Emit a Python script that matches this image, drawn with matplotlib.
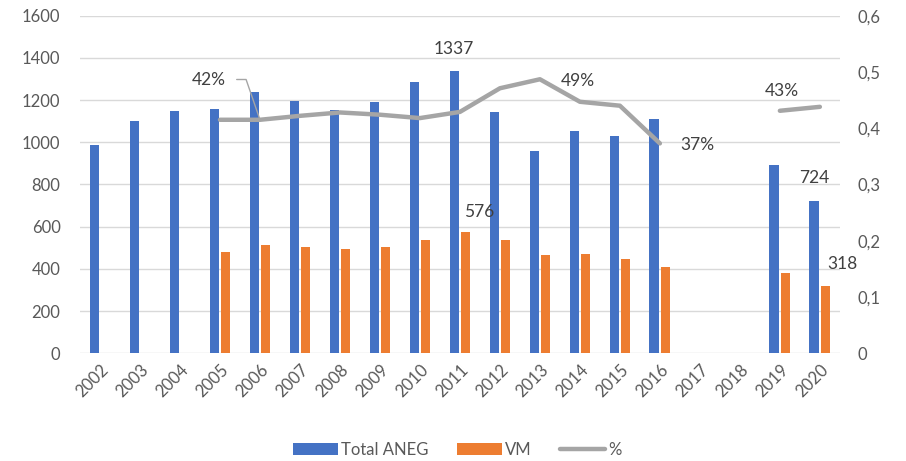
#!/usr/bin/env python
# -*- coding: utf-8 -*-

import matplotlib
matplotlib.use("Agg")
import matplotlib.pyplot as plt
import numpy as np

years = ["2002", "2003", "2004", "2005", "2006", "2007", "2008", "2009", "2010",
         "2011", "2012", "2013", "2014", "2015", "2016", "2017", "2018", "2019", "2020"]
total_aneg = [985, 1100, 1150, 1160, 1238, 1197, 1152, 1193, 1288,
              1337, 1143, 960, 1053, 1029, 1108, None, None, 893, 724]
vm = [None, None, None, 480, 512, 502, 493, 504, 537,
      576, 537, 467, 469, 449, 411, None, None, 382, 318]
pct = [None, None, None, 0.415, 0.415, 0.422, 0.428, 0.424, 0.418,
       0.429, 0.471, 0.487, 0.447, 0.440, 0.373, None, None, 0.431, 0.438]

BLUE = "#4472C4"
ORANGE = "#ED7D31"
GREY = "#A5A5A5"
TXT = "#595959"
LBL = "#404040"

plt.rcParams["font.family"] = ["Lato", "DejaVu Sans"]


def to_arr(values):
    return np.array([np.nan if v is None else v for v in values], dtype=float)


def comma_fmt(v, _pos):
    if abs(v) < 1e-9:
        return "0"
    return f"{v:.1f}".replace(".", ",")


x = np.arange(len(years))
tot = to_arr(total_aneg)
vmv = to_arr(vm)
pcv = to_arr(pct)

fig = plt.figure(figsize=(9.06, 4.61), dpi=100)
ax = fig.add_axes([0.0883, 0.2336, 0.8387, 0.7324])
ax2 = ax.twinx()

w = 0.23
off = 0.145
m = ~np.isnan(tot)
ax.bar(x[m] - off, tot[m], width=w, color=BLUE, zorder=2, label="Total ANEG")
m = ~np.isnan(vmv)
ax.bar(x[m] + off, vmv[m], width=w, color=ORANGE, zorder=2, label="VM")
ax2.plot(x, pcv, color=GREY, lw=3.2, solid_capstyle="round", label="%")

ax.set_xlim(-0.5, len(years) - 0.5)
ax.set_ylim(0, 1600)
ax.set_yticks(np.arange(0, 1601, 200))
ax2.set_ylim(0, 0.6)
ax2.set_yticks(np.arange(0, 0.61, 0.1))
ax2.yaxis.set_major_formatter(plt.FuncFormatter(comma_fmt))

ax.set_xticks(x)
ax.set_xticklabels(years, rotation=45, ha="right", va="top", rotation_mode="anchor")
ax.grid(axis="y", color="#D9D9D9", lw=1, zorder=0)
ax.set_axisbelow(True)
for a in (ax, ax2):
    for s in a.spines.values():
        s.set_visible(False)
    a.tick_params(length=0, labelsize=12, labelcolor=TXT)
ax.tick_params(axis="y", pad=14)
ax.tick_params(axis="x", pad=6)
ax2.tick_params(axis="y", pad=13)

# data labels
i = years.index("2011")
ax.annotate(f"{total_aneg[i]}", (x[i] - off, total_aneg[i]), xytext=(0, 16),
            textcoords="offset points", ha="center", va="center", fontsize=12.5, color=LBL)
ax.annotate(f"{vm[i]}", (x[i] + off, vm[i]), xytext=(10, 14.5),
            textcoords="offset points", ha="center", va="center", fontsize=12.5, color=LBL)
i = years.index("2020")
ax.annotate(f"{total_aneg[i]}", (x[i] - off, total_aneg[i]), xytext=(0, 16),
            textcoords="offset points", ha="center", va="center", fontsize=12.5, color=LBL)
ax.annotate(f"{vm[i]}", (x[i] + off, vm[i]), xytext=(12, 16),
            textcoords="offset points", ha="center", va="center", fontsize=12.5, color=LBL)

for yr, dx, dy in [("2013", 27, -1.5), ("2016", 27, -1.5), ("2019", 1.5, 14)]:
    i = years.index(yr)
    ax2.annotate(f"{pct[i] * 100:.0f}%", (x[i], pct[i]), xytext=(dx, dy),
                 textcoords="offset points", ha="center", va="center",
                 fontsize=12.5, color=LBL)

i = years.index("2006")
ax2.annotate(f"{pct[i] * 100:.0f}%", (x[i], pct[i]), xytext=(-37, 29),
             textcoords="offset points", ha="center", va="center",
             fontsize=12.5, color=LBL,
             arrowprops=dict(arrowstyle="-", color=GREY, lw=1,
                             connectionstyle="angle,angleA=0,angleB=109,rad=0",
                             relpos=(1, 0.5), shrinkA=6, shrinkB=1))

h1, l1 = ax.get_legend_handles_labels()
h2, l2 = ax2.get_legend_handles_labels()
fig.legend(h1 + h2, l1 + l2, loc="lower center", bbox_to_anchor=(0.505, -0.025),
           ncol=3, frameon=False, fontsize=12, labelcolor=TXT,
           handlelength=2.7, handletextpad=0.2, columnspacing=1.7)

fig.savefig("out.png", dpi=100)
plt.close(fig)
